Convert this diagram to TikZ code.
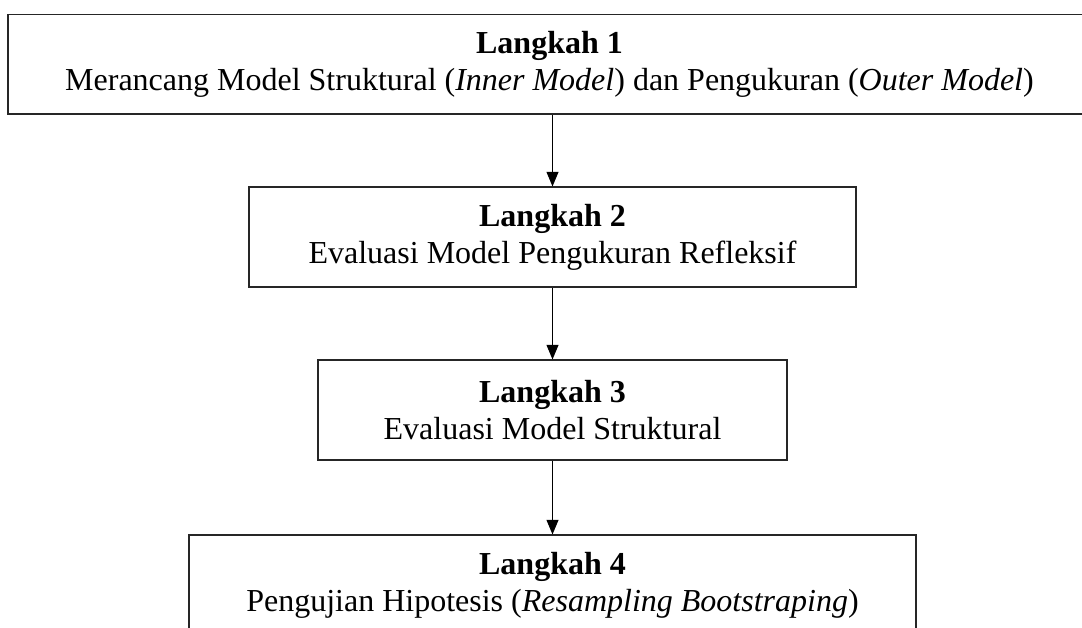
\documentclass[tikz,border=0pt]{standalone}
\usepackage{fontspec}
\setmainfont{Liberation Serif}
\usetikzlibrary{arrows.meta}
\begin{document}
\begin{tikzpicture}[x=0.75pt,y=-0.75pt,
  stepbox/.style={draw=black!85, line width=0.8pt, rectangle, align=center,
    inner sep=0pt, minimum height=75pt, font=\fontsize{24}{27.6}\selectfont},
  flow/.style={draw=black, line width=0.8pt, -{Triangle[length=11pt,width=9pt]}}]
\useasboundingbox (0,0) rectangle (1082,628);
\node[stepbox, minimum width=812.25pt, minimum height=74.6pt] (b1) at (549.5,64.25)
  {\textbf{Langkah 1}\\Merancang Model Struktural (\textit{Inner Model}) dan Pengukuran (\textit{Outer Model})};
\node[stepbox, minimum width=455.25pt] (b2) at (552.5,237)
  {\textbf{Langkah 2}\\Evaluasi Model Pengukuran Refleksif};
\node[stepbox, minimum width=351.75pt] (b3) at (552.5,410)
  {\textbf{Langkah 3}\\Evaluasi Model Struktural};
\node[stepbox, minimum width=545.25pt] (b4) at (552.5,585)
  {\textbf{Langkah 4}\\Pengujian Hipotesis (\textit{Resampling Bootstraping})};
\draw[flow] (b1.south -| b2.north) -- (b2.north);
\draw[flow] (b2.south) -- (b3.north);
\draw[flow] (b3.south) -- (b4.north);
\end{tikzpicture}
\end{document}
